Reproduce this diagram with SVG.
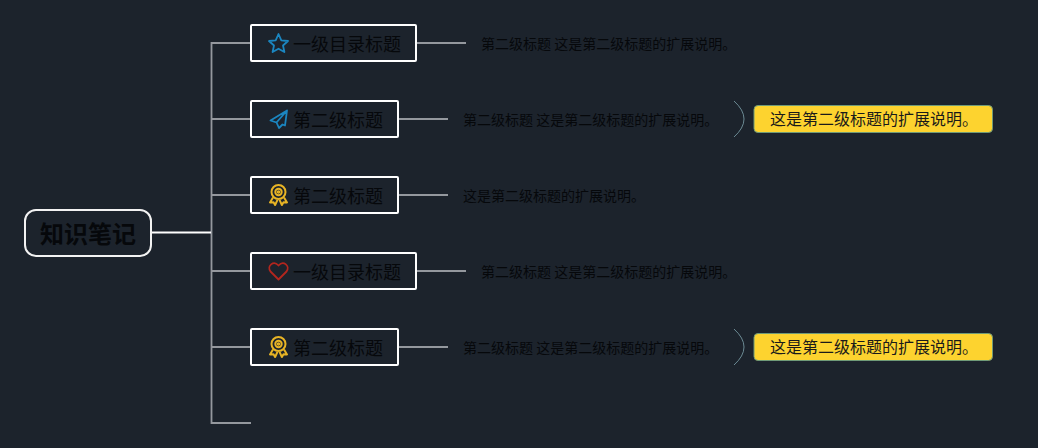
<svg xmlns="http://www.w3.org/2000/svg" width="1038" height="448" viewBox="0 0 1038 448">
<defs>
<style>
text{font-family:"Noto Sans CJK SC","Noto Sans",sans-serif;fill:#06080b}
.box{fill:none;stroke:#fff;stroke-width:2}
.t{font-size:18px}
.d{font-size:14px}
.n{font-size:16px;fill:#1a1a1a}
.line{fill:none;stroke:#94989e;stroke-width:1.800}
.brace{fill:none;stroke:#7fa3ad;stroke-width:.8}
.tag{fill:#fdd32f;stroke:#6f9a78;stroke-width:1}
.ic{fill:none;stroke-width:1.800;stroke-linejoin:round}
.blue{stroke:#1b86c0}.gold{stroke:#e8b425;stroke-width:2}.red{stroke:#b3261e}
</style>
<g id="medal"><circle cx="0" cy="-3" r="7"/><circle cx="0" cy="-3" r="3.200"/><circle cx="0" cy="-3" r=".8"/><path d="M-5.500 2.500L-8.500 7.500L-5 7.300L-3.400 10L-1 4.800M5.500 2.500L8.500 7.500L5 7.300L3.400 10L1 4.800"/></g>
</defs>
<rect width="1038" height="448" fill="#1c232c"/>
<g id="connectors">
<path class="line" d="M251 43H211.500V423H251M211.500 119H251M211.500 195H251M211.500 271H251M211.500 347H251"/>
<path d="M151 232.500H211" fill="none" stroke="#fff" stroke-width="2"/>
<path class="line" d="M417 43H466M399 119H448M399 195H448M417 271H466M399 347H448"/>
<path class="brace" d="M734 101Q754 119 734 137M734 329Q754 347 734 365"/>
</g>
<g id="root"><rect x="25" y="210" width="126" height="46" rx="11" fill="none" stroke="#f2f2f2" stroke-width="2"/><text x="88" y="243" text-anchor="middle" font-size="24" font-weight="700">知识笔记</text></g>
<g id="n1"><rect class="box" x="251" y="25" width="165" height="36" rx="1"/>
<path class="ic blue" d="M278.500 34L281.300 40.300L288 41L283 45.500L284.400 52L278.500 48.700L272.600 52L274 45.500L269 41L275.700 40.300Z"/>
<text class="t" x="293" y="50.500">一级目录标题</text></g>
<g id="n2"><rect class="box" x="251" y="101" width="147" height="36" rx="1"/>
<path class="ic blue" d="M287 110.500L270.500 120.500L276.500 122.500L279 128L282.500 124.500L285 125.500ZM287 110.500L276.500 122.500"/>
<text class="t" x="293" y="126.500">第二级标题</text></g>
<g id="n3"><rect class="box" x="251" y="177" width="147" height="36" rx="1"/>
<use href="#medal" x="278.500" y="195" class="ic gold"/>
<text class="t" x="293" y="202.500">第二级标题</text></g>
<g id="n4"><rect class="box" x="251" y="253" width="165" height="36" rx="1"/>
<path class="ic red" d="M278.500 279.500L270.500 271.500C266.500 266 273.500 260 278.500 265.500C283.500 260 290.500 266 286.500 271.500Z"/>
<text class="t" x="293" y="278.500">一级目录标题</text></g>
<g id="n5"><rect class="box" x="251" y="329" width="147" height="36" rx="1"/>
<use href="#medal" x="278.500" y="347" class="ic gold"/>
<text class="t" x="293" y="354.500">第二级标题</text></g>
<g id="d1"><text class="d" x="481" y="48.500">第二级标题 这是第二级标题的扩展说明。</text></g>
<g id="d2"><text class="d" x="463" y="124.500">第二级标题 这是第二级标题的扩展说明。</text></g>
<g id="d3"><text class="d" x="463" y="200.500">这是第二级标题的扩展说明。</text></g>
<g id="d4"><text class="d" x="481" y="276.500">第二级标题 这是第二级标题的扩展说明。</text></g>
<g id="d5"><text class="d" x="463" y="352.500">第二级标题 这是第二级标题的扩展说明。</text></g>
<g id="tag1"><rect class="tag" x="754" y="105.500" width="238.500" height="27" rx="4"/><text class="n" x="770" y="124.500">这是第二级标题的扩展说明。</text></g>
<g id="tag2"><rect class="tag" x="754" y="333.500" width="238.500" height="27" rx="4"/><text class="n" x="770" y="352.500">这是第二级标题的扩展说明。</text></g>
</svg>
